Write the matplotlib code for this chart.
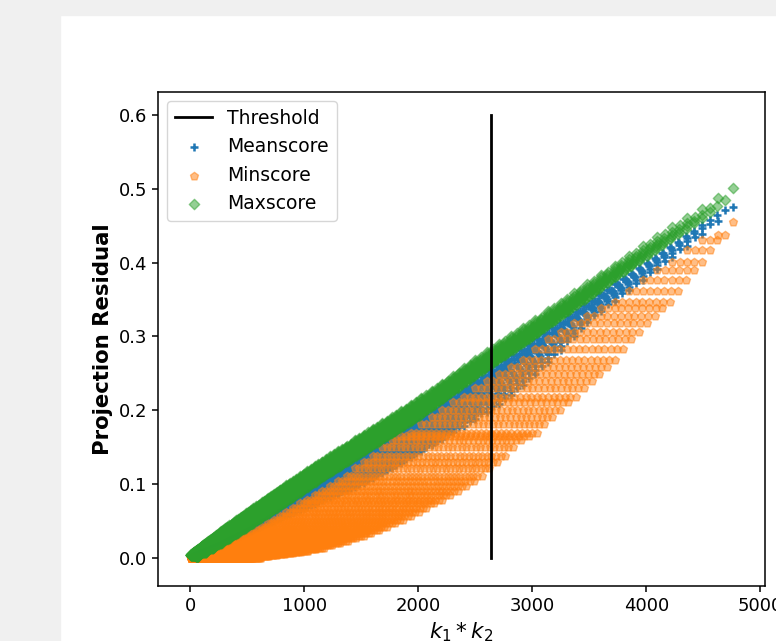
import numpy as np
import matplotlib
matplotlib.use("Agg")
import matplotlib.pyplot as plt
from matplotlib.patches import Rectangle

# k1, k2 run 1..69, x axis is k1*k2
k_max = 69
threshold = 2640

# Minscore row level for each min(k1, k2) = 1..69
r_min = [0.000, 0.000, 0.000, 0.000, 0.000, 0.000, 0.000, 0.000, 0.000, 0.002,
         0.004, 0.005, 0.007, 0.008, 0.010, 0.012, 0.014, 0.017, 0.020, 0.023,
         0.027, 0.030, 0.034, 0.038, 0.042, 0.047, 0.052, 0.057, 0.062, 0.068,
         0.074, 0.079, 0.085, 0.091, 0.097, 0.104, 0.111, 0.122, 0.130, 0.138,
         0.150, 0.160, 0.165, 0.169, 0.182, 0.191, 0.200, 0.211, 0.218, 0.230,
         0.240, 0.249, 0.258, 0.268, 0.283, 0.297, 0.306, 0.318, 0.328, 0.338,
         0.347, 0.362, 0.376, 0.390, 0.401, 0.417, 0.430, 0.438, 0.455]

# band readings along k1*k2
anchor_x = [0, 250, 500, 750, 1000, 1250, 1500, 1750, 2000, 2250,
            2500, 2750, 3000, 3250, 3500, 3750, 4000, 4250, 4500, 4760]
max_mid = [0.000, 0.026, 0.052, 0.078, 0.104, 0.129, 0.154, 0.178, 0.203, 0.230,
           0.258, 0.284, 0.310, 0.337, 0.364, 0.391, 0.417, 0.443, 0.468, 0.497]
max_half = [0.004, 0.008, 0.010, 0.011, 0.011, 0.011, 0.011, 0.011, 0.011, 0.010,
            0.010, 0.010, 0.010, 0.009, 0.009, 0.008, 0.008, 0.007, 0.006, 0.004]
mean_lo = [0.000, 0.016, 0.035, 0.052, 0.068, 0.084, 0.100, 0.120, 0.142, 0.165,
           0.188, 0.213, 0.245, 0.282, 0.322, 0.352, 0.380, 0.410, 0.440, 0.475]
mean_hi = [0.000, 0.016, 0.036, 0.060, 0.086, 0.111, 0.136, 0.160, 0.185, 0.212,
           0.240, 0.266, 0.292, 0.319, 0.346, 0.373, 0.399, 0.425, 0.452, 0.478]

# grid of (k1, k2) pairs
m, n = [], []
for a in range(1, k_max + 1):
    for b in range(a, k_max + 1):
        m.append(a)
        n.append(b)
m = np.array(m)
n = np.array(n)
x = m * n

t = np.where(m < k_max, (n - m) / np.maximum(k_max - m, 1), 0.0)
y_min = np.array(r_min)[m - 1]
lo = np.interp(x, anchor_x, mean_lo)
hi = np.interp(x, anchor_x, mean_hi)
y_mean = lo + (hi - lo) * t
y_max = np.interp(x, anchor_x, max_mid) + np.interp(x, anchor_x, max_half) * (1 - 2 * t)

fig = plt.figure(figsize=(7.76, 6.41), dpi=100)
fig.patches.append(Rectangle((0, 0), 60 / 776, 1, transform=fig.transFigure,
                             color="#f0f0f0", zorder=-1))
fig.patches.append(Rectangle((0, 1 - 15 / 641), 1, 15 / 641, transform=fig.transFigure,
                             color="#f0f0f0", zorder=-1))
ax = fig.add_axes([158 / 776, 55 / 641, 607 / 776, 494 / 641])

ax.plot([threshold, threshold], [0, 0.6], color="black", lw=2, label="Threshold")
ax.scatter(x, y_mean, marker="+", color="#1f77b4", s=36, lw=1.8, label="Meanscore")
ax.scatter(x, y_min, marker="p", color="#ff7f0e", s=36, alpha=0.5, label="Minscore")
ax.scatter(x, y_max, marker="D", color="#2ca02c", s=28, alpha=0.5, label="Maxscore")

ax.set_xlim(-285, 5040)
ax.set_ylim(-0.038, 0.631)
ax.set_xticks([0, 1000, 2000, 3000, 4000, 5000])
ax.set_yticks([0.0, 0.1, 0.2, 0.3, 0.4, 0.5, 0.6])
ax.tick_params(labelsize=13, width=1.1, length=4.5)
for sp in ax.spines.values():
    sp.set_linewidth(1.1)
ax.set_xlabel("$k_1 * k_2$", fontsize=15.5)
ax.set_ylabel("Projection Residual", fontsize=15.3, fontweight="bold")
ax.legend(loc="upper left", fontsize=13.5)

fig.savefig("out.png", dpi=100)
